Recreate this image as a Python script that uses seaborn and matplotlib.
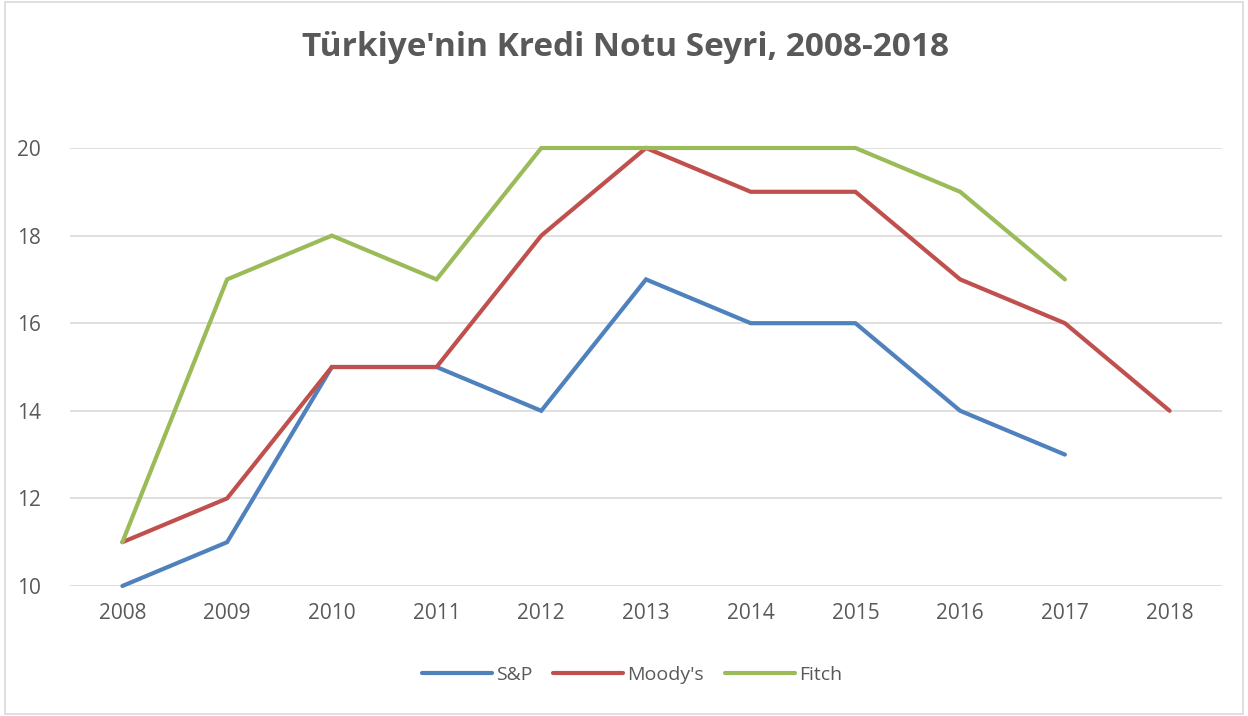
import numpy as np
import pandas as pd
import matplotlib
matplotlib.use("Agg")
import matplotlib.pyplot as plt
import seaborn as sns

years = [2008, 2009, 2010, 2011, 2012, 2013, 2014, 2015, 2016, 2017, 2018]
sp = [10, 11, 15, 15, 14, 17, 16, 16, 14, 13, np.nan]
moodys = [11, 12, 15, 15, 18, 20, 19, 19, 17, 16, 14]
fitch = [11, 17, 18, 17, 20, 20, 20, 20, 19, 17, np.nan]
series_names = ["S&P", "Moody's", "Fitch"]
colors = ["#4F81BD", "#C0504D", "#9BBB59"]
title = "Türkiye'nin Kredi Notu Seyri, 2008-2018"
yticks = [10, 12, 14, 16, 18, 20]

sns.set_theme(style="white")
plt.rcParams['font.family'] = ['Open Sans', 'DejaVu Sans']

df = pd.DataFrame({
    "Yıl": years * 3,
    "Not": sp + moodys + fitch,
    "Kurum": [series_names[0]] * len(years) + [series_names[1]] * len(years) + [series_names[2]] * len(years),
}).dropna()

fig = plt.figure(figsize=(12.48, 7.16), dpi=100)
ax = fig.add_axes([70/1248, 1-586/716, (1222-70)/1248, (586-148)/716])

sns.lineplot(data=df, x="Yıl", y="Not", hue="Kurum", hue_order=series_names,
             palette=colors, linewidth=3.0, ax=ax, legend=True, clip_on=False,
             solid_joinstyle="miter")

ax.set_xlim(years[0] - 0.5, years[-1] + 0.5)
ax.set_ylim(10, 20)
ax.set_yticks(yticks)
ax.set_xticks(years)
ax.set_xticklabels([str(y) for y in years])
ax.yaxis.grid(True, color="#D9D9D9", linewidth=1.2)
ax.set_axisbelow(True)
for s in ["top", "right", "left", "bottom"]:
    ax.spines[s].set_visible(False)
ax.set_xlabel("")
ax.set_ylabel("")
ax.tick_params(axis="both", length=0, colors="#595959", labelsize=15)
ax.tick_params(axis="x", pad=12)
ax.tick_params(axis="y", pad=21)

handles, labels = ax.get_legend_handles_labels()
ax.legend(handles, labels, loc="center", bbox_to_anchor=(632/1248, 1-675/716),
          bbox_transform=fig.transFigure, ncol=3, frameon=False, fontsize=14,
          handlelength=3.6, columnspacing=1.1, handletextpad=0.2,
          labelcolor="#595959")

fig.text(626/1248, 1-47/716, title, ha="center", va="center", fontsize=24,
         fontweight="bold", color="#595959")

border = plt.Rectangle((5/1248, 2/716), 1-10/1248, 1-4/716, transform=fig.transFigure,
                       fill=False, edgecolor="#D9D9D9", linewidth=1.2)
fig.patches.append(border)

fig.savefig("out.png", dpi=100, facecolor="white")
